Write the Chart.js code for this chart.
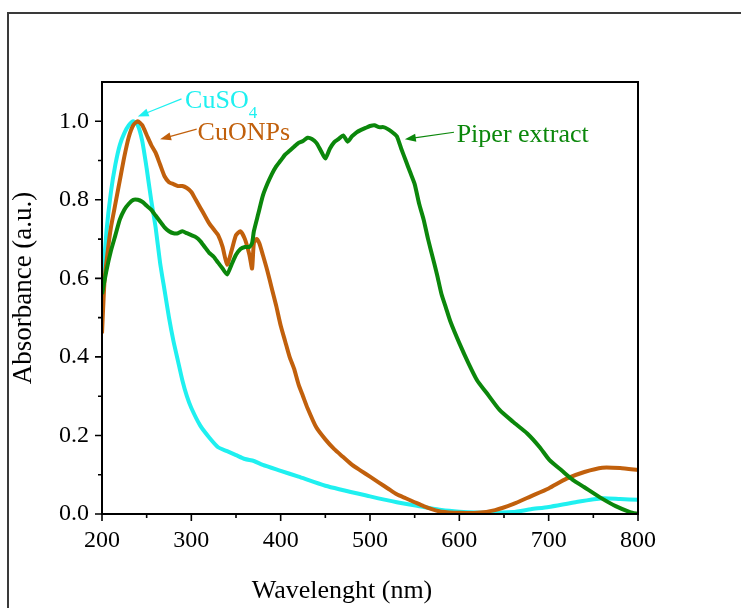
<!DOCTYPE html>
<html>
<head>
<meta charset="utf-8">
<script src="https://cdn.jsdelivr.net/npm/chart.js@4.4.1/dist/chart.umd.min.js"></script>
<style>
  html, body { margin: 0; padding: 0; background: #fff; overflow: hidden; }
  #frame { position: absolute; left: 7px; top: 12px; width: 800px; height: 700px; border: 2px solid #3a3a3a; }
  #wrap { position: absolute; left: 0; top: 0; width: 741px; height: 608px; }
</style>
</head>
<body>
<div id="frame"></div>
<div id="wrap"><canvas id="uvChart" width="741" height="608"></canvas></div>
<script>
// UV-Vis spectra, wavelength (nm) vs absorbance (a.u.)
const xTicks = [200, 300, 400, 500, 600, 700, 800];
const yTicks = [0, 0.2, 0.4, 0.6, 0.8, 1.0];

const cusoWl = [200, 205, 210, 215, 220, 225, 230, 235, 240, 245, 250, 255, 260, 265, 270, 275, 280, 285, 290, 295, 300, 310, 320, 330, 340, 350, 360, 370, 380, 400, 420, 450, 500, 530, 560, 580, 600, 630, 660, 680, 700, 730, 760, 780, 800];
const cusoAbs = [0.57, 0.72, 0.82, 0.89, 0.94, 0.97, 0.99, 1.0, 0.99, 0.95, 0.88, 0.80, 0.73, 0.64, 0.57, 0.50, 0.44, 0.39, 0.34, 0.30, 0.27, 0.225, 0.195, 0.17, 0.16, 0.15, 0.14, 0.135, 0.125, 0.11, 0.095, 0.072, 0.045, 0.03, 0.018, 0.01, 0.006, 0.003, 0.005, 0.012, 0.018, 0.03, 0.04, 0.038, 0.036];

const cuonpWl = [200, 203, 207, 210, 215, 220, 225, 230, 235, 240, 245, 250, 255, 260, 265, 270, 275, 280, 285, 290, 295, 300, 305, 310, 315, 320, 325, 330, 335, 340, 345, 350, 355, 360, 365, 368, 370, 373, 376, 380, 385, 390, 395, 400, 405, 410, 415, 420, 425, 430, 440, 450, 460, 470, 480, 490, 500, 510, 520, 530, 540, 550, 560, 570, 580, 600, 620, 640, 660, 680, 700, 720, 740, 760, 780, 800];
const cuonpAbs = [0.46, 0.60, 0.68, 0.73, 0.79, 0.85, 0.91, 0.96, 0.99, 1.0, 0.99, 0.965, 0.94, 0.92, 0.89, 0.86, 0.845, 0.84, 0.835, 0.835, 0.83, 0.82, 0.80, 0.78, 0.76, 0.74, 0.725, 0.71, 0.68, 0.635, 0.67, 0.71, 0.72, 0.70, 0.66, 0.625, 0.69, 0.70, 0.69, 0.66, 0.62, 0.575, 0.53, 0.48, 0.44, 0.40, 0.37, 0.33, 0.30, 0.27, 0.22, 0.19, 0.165, 0.145, 0.125, 0.11, 0.095, 0.08, 0.065, 0.05, 0.04, 0.03, 0.02, 0.012, 0.006, 0.003, 0.003, 0.01, 0.025, 0.045, 0.065, 0.09, 0.107, 0.118, 0.117, 0.112];

const piperWl = [200, 205, 210, 215, 220, 225, 230, 235, 240, 245, 250, 255, 260, 265, 270, 275, 280, 285, 290, 295, 300, 305, 310, 315, 320, 325, 330, 335, 340, 345, 350, 355, 360, 365, 368, 370, 375, 380, 385, 390, 395, 400, 405, 410, 415, 420, 425, 430, 435, 440, 445, 450, 455, 460, 465, 470, 475, 480, 485, 490, 495, 500, 505, 510, 515, 520, 525, 530, 535, 540, 545, 550, 555, 560, 565, 570, 575, 580, 585, 590, 600, 610, 620, 630, 645, 660, 676, 690, 701, 715, 727, 740, 757, 775, 791, 800];
const piperAbs = [0.56, 0.62, 0.67, 0.71, 0.75, 0.775, 0.79, 0.80, 0.80, 0.795, 0.785, 0.775, 0.76, 0.745, 0.73, 0.72, 0.715, 0.715, 0.72, 0.715, 0.71, 0.705, 0.695, 0.68, 0.665, 0.655, 0.64, 0.625, 0.61, 0.635, 0.66, 0.675, 0.68, 0.68, 0.69, 0.72, 0.765, 0.81, 0.84, 0.865, 0.885, 0.90, 0.915, 0.925, 0.935, 0.945, 0.95, 0.958, 0.955, 0.945, 0.925, 0.905, 0.93, 0.947, 0.955, 0.964, 0.948, 0.962, 0.972, 0.978, 0.983, 0.988, 0.99, 0.985, 0.985, 0.98, 0.972, 0.962, 0.93, 0.90, 0.87, 0.84, 0.79, 0.75, 0.70, 0.655, 0.61, 0.56, 0.525, 0.49, 0.435, 0.385, 0.34, 0.31, 0.265, 0.235, 0.205, 0.17, 0.137, 0.11, 0.087, 0.068, 0.043, 0.02, 0.005, 0.0];

const cyan = "#1ff0f0";
const brown = "#c1600c";
const green = "#0b870b";
const serif = "'Liberation Serif', 'Times New Roman', serif";

function toPoints(wl, abs) {
  return wl.map((w, i) => ({ x: w, y: abs[i] }));
}

// labels with arrows, given in data coordinates
const notes = [
  { text: "CuSO", sub: "4", color: cyan, at: [293, 1.035], from: [289, 1.057], to: [240, 1.012] },
  { text: "CuONPs", sub: "", color: brown, at: [307, 0.952], from: [306, 0.98], to: [265, 0.954] },
  { text: "Piper extract", sub: "", color: green, at: [597, 0.947], from: [594, 0.972], to: [539, 0.954] },
];

const framePlugin = {
  id: "framePlugin",
  afterDraw(chart) {
    const ctx = chart.ctx;
    const a = chart.chartArea;
    const xs = chart.scales.x;
    const ys = chart.scales.y;
    ctx.save();
    ctx.strokeStyle = "#000";
    ctx.lineWidth = 2;
    ctx.strokeRect(a.left, a.top, a.right - a.left, a.bottom - a.top);

    ctx.lineWidth = 1.6;
    ctx.beginPath();
    for (let v = 200; v <= 800; v += 50) {
      const px = xs.getPixelForValue(v);
      const len = v % 100 === 0 ? 7 : 4;
      ctx.moveTo(px, a.bottom);
      ctx.lineTo(px, a.bottom + len);
    }
    for (let k = 0; k <= 10; k++) {
      const py = ys.getPixelForValue(k / 10);
      const len = k % 2 === 0 ? 7 : 4;
      ctx.moveTo(a.left, py);
      ctx.lineTo(a.left - len, py);
    }
    ctx.stroke();

    // axis titles
    ctx.fillStyle = "#000";
    ctx.font = "26px " + serif;
    ctx.textAlign = "center";
    ctx.textBaseline = "alphabetic";
    ctx.fillText("Wavelenght (nm)", 342, 598);
    ctx.save();
    ctx.translate(31, 288);
    ctx.rotate(-Math.PI / 2);
    ctx.font = "27px " + serif;
    ctx.fillText("Absorbance (a.u.)", 0, 0);
    ctx.restore();

    // annotations
    notes.forEach((n) => {
      const tx = xs.getPixelForValue(n.at[0]);
      const ty = ys.getPixelForValue(n.at[1]);
      ctx.fillStyle = n.color;
      ctx.strokeStyle = n.color;
      ctx.textAlign = "left";
      ctx.font = "26px " + serif;
      ctx.fillText(n.text, tx, ty);
      if (n.sub) {
        const w = ctx.measureText(n.text).width;
        ctx.font = "17px " + serif;
        ctx.fillText(n.sub, tx + w, ty + 10);
      }
      const x1 = xs.getPixelForValue(n.from[0]);
      const y1 = ys.getPixelForValue(n.from[1]);
      const x2 = xs.getPixelForValue(n.to[0]);
      const y2 = ys.getPixelForValue(n.to[1]);
      const ang = Math.atan2(y2 - y1, x2 - x1);
      ctx.lineWidth = 1.2;
      ctx.beginPath();
      ctx.moveTo(x1, y1);
      ctx.lineTo(x2 - 8 * Math.cos(ang), y2 - 8 * Math.sin(ang));
      ctx.stroke();
      ctx.beginPath();
      ctx.moveTo(x2, y2);
      ctx.lineTo(x2 - 11 * Math.cos(ang) + 4 * Math.sin(ang), y2 - 11 * Math.sin(ang) - 4 * Math.cos(ang));
      ctx.lineTo(x2 - 11 * Math.cos(ang) - 4 * Math.sin(ang), y2 - 11 * Math.sin(ang) + 4 * Math.cos(ang));
      ctx.closePath();
      ctx.fill();
    });
    ctx.restore();
  },
};

const ctx = document.getElementById("uvChart");

new Chart(ctx, {
  type: "line",
  data: {
    datasets: [
      { label: "CuSO4", data: toPoints(cusoWl, cusoAbs), borderColor: cyan, borderWidth: 4, order: 3 },
      { label: "CuONPs", data: toPoints(cuonpWl, cuonpAbs), borderColor: brown, borderWidth: 4, order: 2 },
      { label: "Piper extract", data: toPoints(piperWl, piperAbs), borderColor: green, borderWidth: 4, order: 1 },
    ],
  },
  options: {
    responsive: false,
    animation: false,
    parsing: true,
    elements: { point: { radius: 0 }, line: { tension: 0.2, fill: false } },
    layout: { padding: { left: 0, top: 82, right: 103, bottom: 0 } },
    plugins: { legend: { display: false }, tooltip: { enabled: false } },
    scales: {
      x: {
        type: "linear",
        min: 200,
        max: 800,
        grid: { display: false, drawTicks: false },
        border: { display: false },
        afterFit: (s) => { s.height = 94; },
        afterBuildTicks: (s) => { s.ticks = xTicks.map((v) => ({ value: v })); },
        ticks: { color: "#000", font: { family: serif, size: 24 }, padding: 12, maxRotation: 0 },
      },
      y: {
        type: "linear",
        min: 0,
        max: 1.1,
        grid: { display: false, drawTicks: false },
        border: { display: false },
        afterFit: (s) => { s.width = 102; },
        afterBuildTicks: (s) => { s.ticks = yTicks.map((v) => ({ value: v })); },
        ticks: {
          color: "#000",
          font: { family: serif, size: 24 },
          padding: 13,
          callback: (v) => Number(v).toFixed(1),
        },
      },
    },
  },
  plugins: [framePlugin],
});
</script>
</body>
</html>
